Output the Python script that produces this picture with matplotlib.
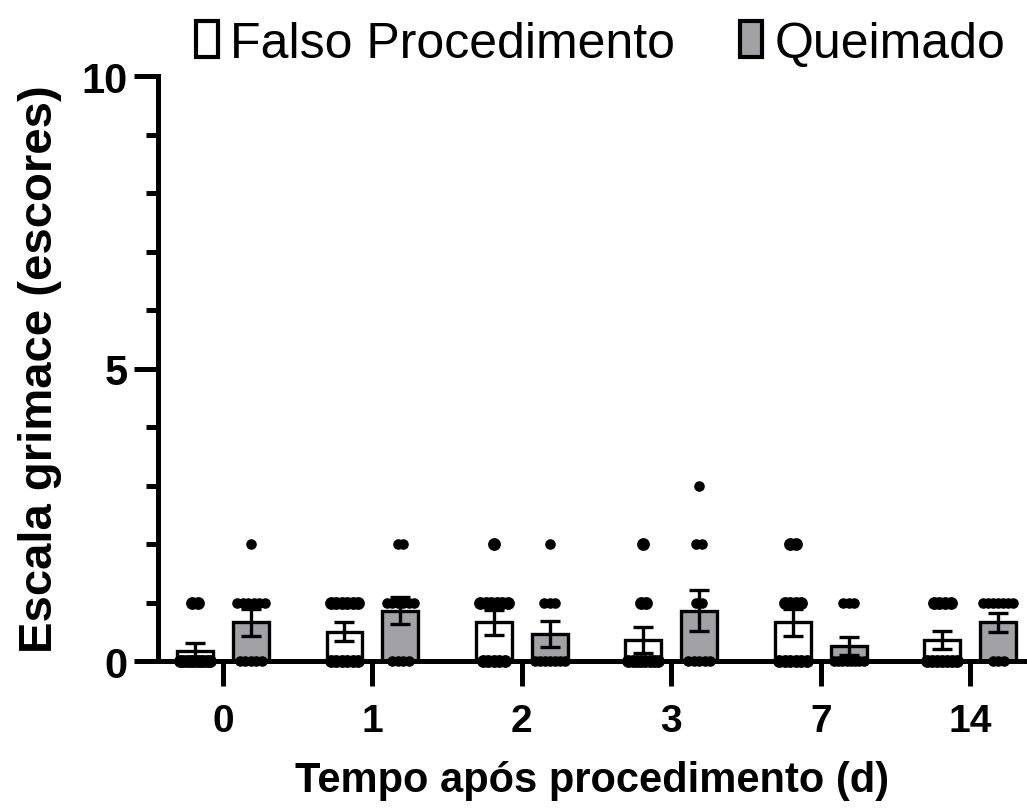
import numpy as np
import matplotlib
matplotlib.use("Agg")
import matplotlib.pyplot as plt
from matplotlib.patches import Patch

plt.rcParams["font.family"] = ["Liberation Sans", "DejaVu Sans"]

# data
days = ["0", "1", "2", "3", "7", "14"]

sham_mean = [0.17, 0.50, 0.66, 0.36, 0.66, 0.36]
sham_sem = [0.14, 0.16, 0.21, 0.22, 0.23, 0.16]
burn_mean = [0.66, 0.86, 0.46, 0.86, 0.26, 0.66]
burn_sem = [0.23, 0.23, 0.22, 0.35, 0.15, 0.16]

# individual animal scores per day
sham_points = [
    [0] * 10 + [1] * 2,
    [0] * 6 + [1] * 6,
    [0] * 5 + [1] * 6 + [2],
    [0] * 8 + [1] * 2 + [2],
    [0] * 6 + [1] * 4 + [2] * 2,
    [0] * 7 + [1] * 4,
]
burn_points = [
    [0] * 5 + [1] * 6 + [2],
    [0] * 4 + [1] * 6 + [2] * 2,
    [0] * 7 + [1] * 3 + [2],
    [0] * 5 + [1] * 2 + [2] * 2 + [3],
    [0] * 8 + [1] * 3,
    [0] * 3 + [1] * 7,
]

grey = "#a2a2a6"
lw = 3.6

fig = plt.figure(figsize=(10.27, 8.12), dpi=100)
ax = fig.add_axes([0.1538, 0.1847, 0.8462, 0.7204])

x = np.arange(len(days))
off = 0.187
width = 0.24

ax.bar(x - off, sham_mean, width, color="white", edgecolor="black", linewidth=2.4, zorder=2)
ax.bar(x + off, burn_mean, width, color=grey, edgecolor="black", linewidth=2.4, zorder=2)
ax.errorbar(x - off, sham_mean, yerr=sham_sem, fmt="none", ecolor="black",
            elinewidth=2.4, capsize=7, capthick=2.4, zorder=3)
ax.errorbar(x + off, burn_mean, yerr=burn_sem, fmt="none", ecolor="black",
            elinewidth=2.4, capsize=7, capthick=2.4, zorder=3)


def spread(center, values, step=0.037, maxspan=0.2):
    xs, ys = [], []
    for v in sorted(set(values)):
        n = values.count(v)
        if n > 1:
            s = min(step, maxspan / (n - 1))
            pos = center + (np.arange(n) - (n - 1) / 2) * s
        else:
            pos = np.array([center])
        xs.extend(pos)
        ys.extend([v] * n)
    return xs, ys


for i in range(len(days)):
    sx, sy = spread(x[i] - off, sham_points[i])
    ax.plot(sx, sy, "o", color="black", markersize=8.2, clip_on=False, zorder=4)
    bx, by = spread(x[i] + off, burn_points[i])
    ax.plot(bx, by, "o", color="black", markersize=6.6, clip_on=False, zorder=4)

ax.set_xlim(-0.435, 5.38)
ax.set_ylim(0, 10)
ax.set_xticks(x)
ax.set_xticklabels(days, fontsize=28, fontweight="bold")
ax.set_yticks([0, 5, 10])
ax.set_yticklabels(["0", "5", "10"], fontsize=30, fontweight="bold")
ax.set_yticks(np.arange(0, 11, 1), minor=True)

for side in ["top", "right"]:
    ax.spines[side].set_visible(False)
for side in ["left", "bottom"]:
    ax.spines[side].set_linewidth(lw)
    ax.spines[side].set_capstyle("projecting")

ax.tick_params(axis="y", which="major", length=17, width=lw, pad=5)
ax.tick_params(axis="y", which="minor", length=9, width=lw)
ax.tick_params(axis="x", which="major", length=18, width=lw, pad=12)

ax.set_ylabel("Escala grimace (escores)", fontsize=34, fontweight="bold", labelpad=14)
ax.set_xlabel("Tempo após procedimento (d)", fontsize=30, fontweight="bold", labelpad=15)

handles = [
    Patch(facecolor="white", edgecolor="black", linewidth=3, label="Falso Procedimento"),
    Patch(facecolor=grey, edgecolor="black", linewidth=3, label="Queimado"),
]
fig.legend(handles=handles, loc="center", bbox_to_anchor=(0.585, 0.945), ncol=2,
           frameon=False, fontsize=36, handlelength=0.44, handleheight=0.74,
           handletextpad=0.24, columnspacing=1.3, borderpad=0.1)

fig.savefig("out.png", dpi=100)
